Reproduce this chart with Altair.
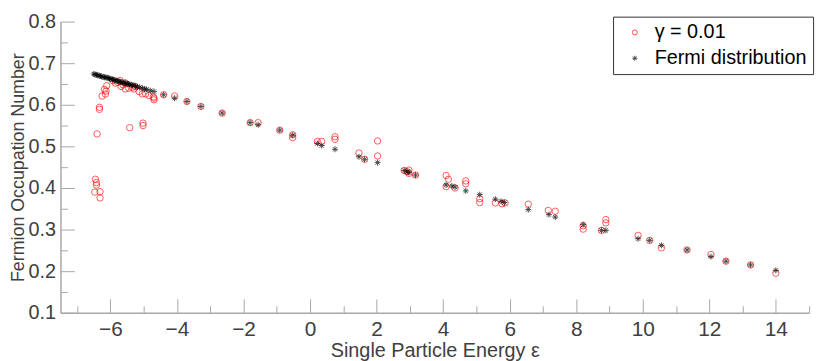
import altair as alt
import pandas as pd

series_labels = ["γ = 0.01", "Fermi distribution"]

gamma_x = [-5.93, -5.85, -5.78, -5.71, -5.68, -5.62, -5.56, -5.55, -5.45, -5.34, -5.29, -5.26,
           -5.14, -5.04, -4.94, -4.84, -4.71, -4.69, -4.69, -4.40, -6.11, -6.18, -6.13, -6.15,
           -6.25, -6.33, -6.33, -6.40, -5.42, -5.02, -5.02, -6.45, -6.42, -6.42, -6.47, -6.31,
           -6.31,
           -4.07, -3.70, -3.28, -2.64, -1.80, -1.56, -0.91, -0.52, -0.52, 0.22, 0.35, 0.75, 0.75,
           1.47, 1.64, 2.03, 2.03, 2.83, 2.92, 2.97, 2.97, 3.17, 4.09, 4.16, 4.09, 4.36, 4.68,
           4.68, 5.10, 5.10, 5.57, 5.77, 5.86, 6.56, 7.16, 7.37, 8.21, 8.21, 8.76, 8.89, 8.89,
           9.86, 10.21, 10.56, 11.33, 12.05, 12.50, 13.24, 14.00]
gamma_y = [0.658, 0.652, 0.654, 0.658, 0.644, 0.648, 0.653, 0.638, 0.640, 0.642, 0.638, 0.644,
           0.632, 0.626, 0.626, 0.622, 0.619, 0.616, 0.612, 0.624, 0.646, 0.637, 0.633, 0.626,
           0.621, 0.594, 0.589, 0.530, 0.545, 0.556, 0.550, 0.421, 0.413, 0.407, 0.390, 0.391,
           0.376,
           0.621, 0.608, 0.596, 0.580, 0.557, 0.557, 0.539, 0.528, 0.521, 0.512, 0.512, 0.523, 0.517,
           0.484, 0.469, 0.513, 0.477, 0.442, 0.439, 0.443, 0.435, 0.431, 0.430, 0.421, 0.403, 0.400, 0.417,
           0.410, 0.374, 0.365, 0.364, 0.362, 0.364, 0.361, 0.346, 0.344, 0.309, 0.301, 0.298, 0.324, 0.316,
           0.286, 0.274, 0.256, 0.251, 0.240, 0.224, 0.215, 0.195]

fermi_x = [-6.50, -6.46, -6.42, -6.38, -6.34, -6.30, -6.26, -6.22, -6.18, -6.14, -6.10, -6.06,
           -6.02, -5.98, -5.94, -5.90, -5.86, -5.82, -5.78, -5.74, -5.70, -5.66, -5.62, -5.58,
           -5.54, -5.50, -5.46, -5.42, -5.38, -5.34, -5.29, -5.24, -5.19, -5.12, -5.04, -4.97,
           -4.91, -4.80, -4.69, -4.40, -4.07,
           -3.70, -3.28, -2.64, -1.80, -1.56, -0.91, -0.52, 0.22, 0.35, 0.75, 1.47, 1.64, 2.03,
           2.83, 2.92, 2.97, 3.17, 4.09, 4.26, 4.36, 4.68, 5.10, 5.57, 5.74, 5.84, 6.56, 7.18,
           7.37, 8.21, 8.76, 8.89, 9.86, 10.21, 10.56, 11.33, 12.05, 12.50, 13.24, 14.00]
fermi_y = [0.674, 0.673, 0.672, 0.671, 0.670, 0.669, 0.668, 0.667, 0.666, 0.666, 0.665, 0.664,
           0.663, 0.662, 0.661, 0.660, 0.659, 0.658, 0.657, 0.656, 0.655, 0.654, 0.653, 0.652,
           0.652, 0.651, 0.650, 0.649, 0.648, 0.647, 0.646, 0.645, 0.643, 0.642, 0.640, 0.638,
           0.637, 0.634, 0.632, 0.624, 0.616,
           0.608, 0.596, 0.580, 0.557, 0.552, 0.539, 0.527, 0.507, 0.502, 0.493, 0.475, 0.469, 0.461,
           0.442, 0.439, 0.437, 0.431, 0.407, 0.405, 0.402, 0.393, 0.384, 0.373, 0.368, 0.365, 0.348, 0.336,
           0.330, 0.312, 0.298, 0.298, 0.278, 0.274, 0.262, 0.251, 0.235, 0.224, 0.215, 0.202]

x_labels = [-6, -4, -2, 0, 2, 4, 6, 8, 10, 12, 14]
x_ticks = [-7, -6, -5, -4, -3, -2, -1, 0, 1, 2, 3, 4, 5, 6, 7, 8, 9, 10, 11, 12, 13, 14, 15]
y_labels = [0.1, 0.2, 0.3, 0.4, 0.5, 0.6, 0.7, 0.8]
y_ticks = [0.1, 0.15, 0.2, 0.25, 0.3, 0.35, 0.4, 0.45, 0.5, 0.55, 0.6, 0.65, 0.7, 0.75, 0.8]

df_g = pd.DataFrame({"e": gamma_x, "n": gamma_y, "series": series_labels[0]})
df_f = pd.DataFrame({"e": fermi_x, "n": fermi_y, "series": series_labels[1]})

FONT = "Liberation Sans"
TXT = "#404040"
AXC = "#a8a8a8"
ASTERISK = "M-1,0L1,0M0,-1L0,1M-0.7,-0.7L0.7,0.7M-0.7,0.7L0.7,-0.7"
W, H = 756, 294

xscale = alt.Scale(domain=[-7.5, 15], nice=False, zero=False)
yscale = alt.Scale(domain=[0.1, 0.8], nice=False, zero=False)

legend = alt.Legend(title=None, orient="none", legendX=558, legendY=-5, direction="vertical",
                    labelFont=FONT, labelFontSize=20, labelColor="#000000",
                    strokeColor="#333333", fillColor="#ffffff", padding=6,
                    rowPadding=6, symbolSize=25, symbolStrokeWidth=1, labelOffset=10,
                    symbolOffset=6, labelLimit=300)
color = alt.Color("series:N", scale=alt.Scale(domain=series_labels, range=["#ff0000", "#000000"]),
                  legend=legend)
shape = alt.Shape("series:N", scale=alt.Scale(domain=series_labels, range=["circle", ASTERISK]),
                  legend=legend)

major_x = {"condition": {"test": "datum.value % 2 === 0", "value": 14}, "value": 7}
major_y = {"condition": {"test": "abs(round(datum.value * 20)) % 2 === 0", "value": 14}, "value": 7}

red = alt.Chart(df_g).mark_point(filled=False, size=42, strokeWidth=0.9).encode(
    x=alt.X("e:Q", scale=xscale,
            axis=alt.Axis(orient="bottom", values=x_labels, ticks=False, grid=False,
                          domainColor=AXC, domainWidth=1.5, labelFont=FONT, labelFontSize=21,
                          labelColor=TXT, labelPadding=6, title="Single Particle Energy ε",
                          titleFont=FONT, titleFontSize=20, titleFontWeight="normal",
                          titleColor=TXT, titlePadding=1)),
    y=alt.Y("n:Q", scale=yscale,
            axis=alt.Axis(orient="left", values=y_labels, format=".1f", ticks=False, grid=False,
                          domainColor=AXC, domainWidth=1.5, labelFont=FONT, labelFontSize=20,
                          labelColor=TXT, labelPadding=5, title="Fermion Occupation Number",
                          titleFont=FONT, titleFontSize=18, titleFontWeight="normal",
                          titleColor=TXT, titlePadding=1)),
    color=color,
    shape=shape,
)

black = alt.Chart(df_f).mark_point(filled=False, size=36, strokeWidth=1).encode(
    x=alt.X("e:Q", scale=xscale,
            axis=alt.Axis(orient="top", offset=-H, values=x_ticks, labels=False, domain=False,
                          grid=False, ticks=True, tickSize=major_x, tickColor=AXC, tickWidth=1,
                          title=None)),
    y=alt.Y("n:Q", scale=yscale,
            axis=alt.Axis(orient="right", offset=-W, values=y_ticks, labels=False, domain=False,
                          grid=False, ticks=True, tickSize=major_y, tickColor=AXC, tickWidth=1,
                          title=None)),
    color=color,
    shape=shape,
)

chart = alt.layer(red, black).resolve_axis(x="independent", y="independent").properties(
    width=W, height=H,
    autosize=alt.AutoSizeParams(type="none"),
    padding={"left": 53, "top": 12, "right": 13, "bottom": 47},
    background="#ffffff",
).configure_view(stroke=None)

chart.save("out.html", embed_options={"renderer": "svg", "actions": False})
